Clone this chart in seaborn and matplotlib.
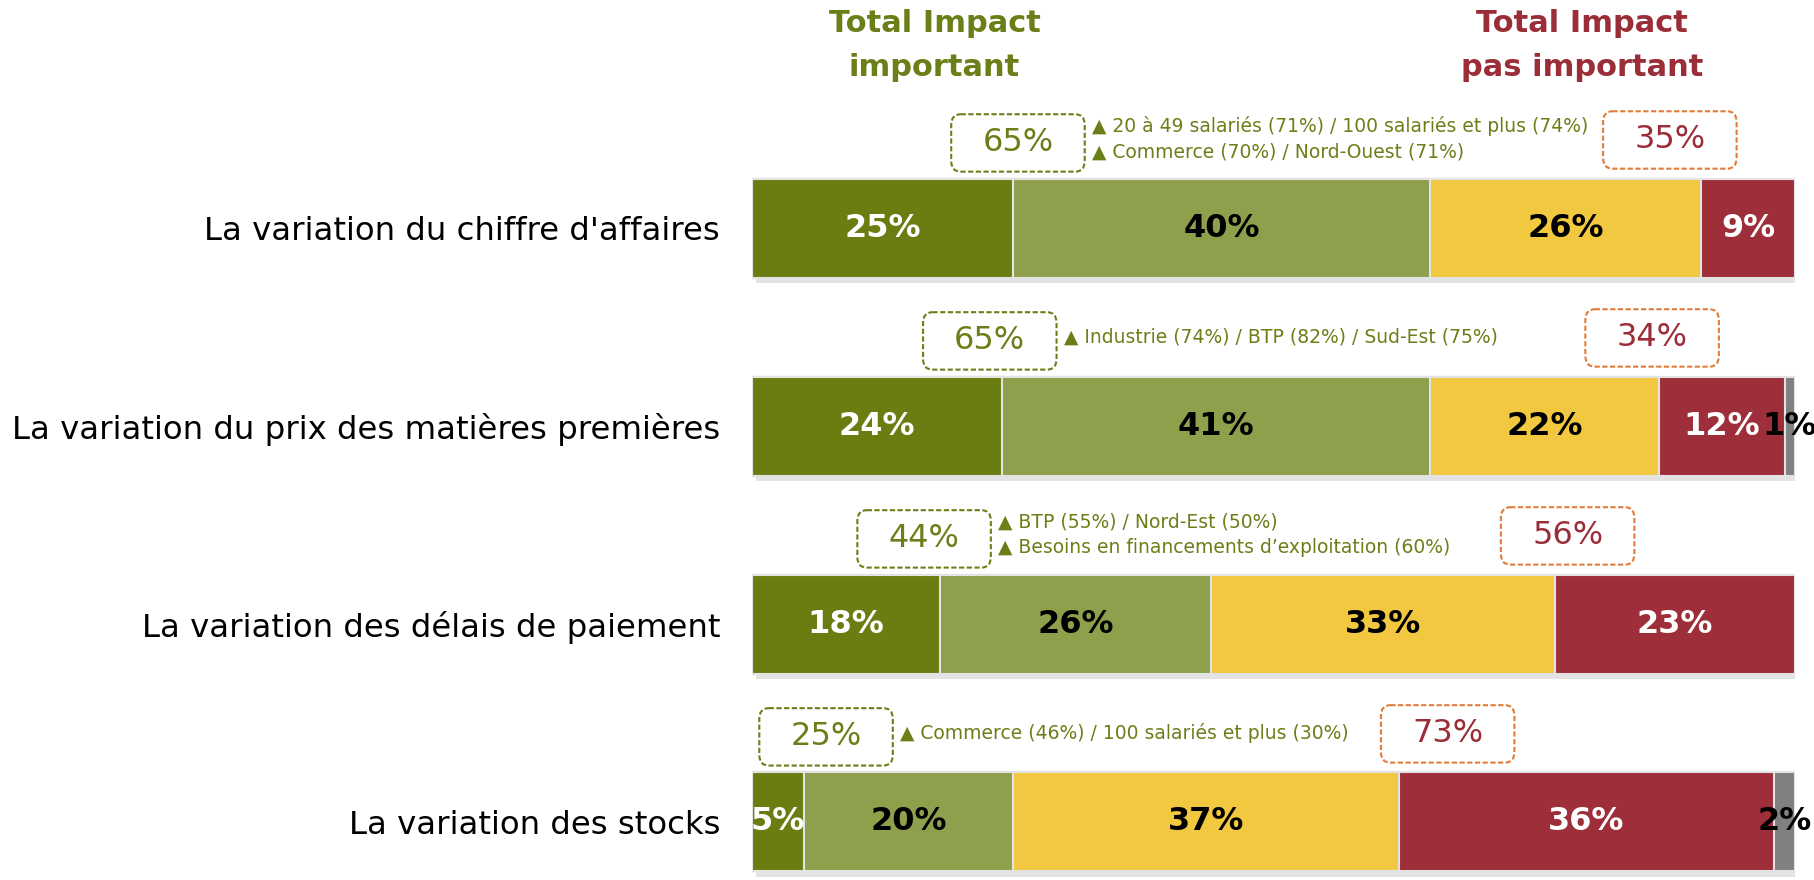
import numpy as np
import pandas as pd
import matplotlib.pyplot as plt
import seaborn as sns
from matplotlib.patches import FancyBboxPatch
import matplotlib.patheffects as pe

# data
labels = ["La variation du chiffre d'affaires",
          "La variation du prix des matières premières",
          "La variation des délais de paiement",
          "La variation des stocks"]
tres_important = [25, 24, 18, 5]
assez_important = [40, 41, 26, 20]
peu_important = [26, 22, 33, 37]
pas_important = [9, 12, 23, 36]
nsp = [0, 1, 0, 2]
total_important = [65, 65, 44, 25]
total_pas_important = [35, 34, 56, 73]
sous_groupes = ["▲ 20 à 49 salariés (71%) / 100 salariés et plus (74%)\n▲ Commerce (70%) / Nord-Ouest (71%)",
                "▲ Industrie (74%) / BTP (82%) / Sud-Est (75%)",
                "▲ BTP (55%) / Nord-Est (50%)\n▲ Besoins en financements d\u2019exploitation (60%)",
                "▲ Commerce (46%) / 100 salariés et plus (30%)"]

# layout of the boxes (x centre in % of the bar)
green_box_x = [25.5, 22.8, 16.5, 7.1]
red_box_x = [88.0, 86.3, 78.2, 66.7]

colors = ['#6a7d10', '#8fa04d', '#f1c83f', '#9d2e3a', '#808080']
text_colors = ['white', 'black', 'black', 'white', 'black']
green = '#6b7f18'
red = '#9b2d38'
orange = '#e07b39'

sns.set_style("white")
plt.rcParams['font.family'] = ['DejaVu Sans']

df = pd.DataFrame({'label': labels, 'tres': tres_important, 'assez': assez_important,
                   'peu': peu_important, 'pas': pas_important, 'nsp': nsp})
series = ['tres', 'assez', 'peu', 'pas', 'nsp']
cum = df[series].cumsum(axis=1)

fig = plt.figure(figsize=(18.15, 8.8), dpi=100)
ax = fig.add_axes([752 / 1815, 0, 1043 / 1815, 1])

# stacked bars: draw cumulative totals, longest first
for i in range(len(series) - 1, -1, -1):
    n_before = len(ax.patches)
    sns.barplot(x=cum[series[i]], y=df['label'], orient='h', color=colors[i], saturation=1,
                width=0.5, edgecolor='#e3e3e3', linewidth=1.5, ax=ax)
    if i == len(series) - 1:
        for p in ax.patches[n_before:]:
            p.set_path_effects([pe.SimplePatchShadow(offset=(3, -4), shadow_rgbFace='#c8c8c8', alpha=0.5),
                                pe.Normal()])

# values in the bars
for r in range(len(labels)):
    left = 0
    for i, s in enumerate(series):
        v = df[s][r]
        if v > 0:
            ax.text(left + v / 2, r, f"{v}%", ha='center', va='center', fontsize=23,
                    fontweight='bold', color=text_colors[i])
        left += v

# total boxes and sub-group notes
for r in range(len(labels)):
    yc = r - 0.43
    bw, bh = 12.8, 0.29
    box = FancyBboxPatch((green_box_x[r] - bw / 2, yc - bh / 2), bw, bh,
                         boxstyle="round,pad=0,rounding_size=0.9", fill=False,
                         edgecolor=green, linestyle=(0, (2.5, 1.2)), linewidth=1.5,
                         mutation_aspect=0.06, clip_on=False)
    ax.add_patch(box)
    ax.text(green_box_x[r], yc, f"{total_important[r]}%", ha='center', va='center',
            fontsize=23, color=green)
    ycr = r - 0.445
    box = FancyBboxPatch((red_box_x[r] - bw / 2, ycr - bh / 2), bw, bh,
                         boxstyle="round,pad=0,rounding_size=0.9", fill=False,
                         edgecolor=orange, linestyle=(0, (2.5, 1.2)), linewidth=1.5,
                         mutation_aspect=0.06, clip_on=False)
    ax.add_patch(box)
    ax.text(red_box_x[r], ycr, f"{total_pas_important[r]}%", ha='center', va='center',
            fontsize=23, color=red)
    ax.text(green_box_x[r] + bw / 2 + 0.7, yc - 0.02, sous_groupes[r], ha='left', va='center',
            fontsize=13.5, color=green, linespacing=1.45)

# headers
ax.text(17.5, -0.92, "Total Impact\nimportant", ha='center', va='center', fontsize=22,
        fontweight='bold', color=green, linespacing=1.65)
ax.text(79.6, -0.92, "Total Impact\npas important", ha='center', va='center', fontsize=22,
        fontweight='bold', color=red, linespacing=1.65)

ax.set_xlim(0, 100)
ax.set_ylim(3.293, -1.152)
ax.set_xlabel('')
ax.set_ylabel('')
ax.set_xticks([])
ax.tick_params(axis='y', length=0, pad=23, labelsize=23.3, labelcolor='black')
sns.despine(ax=ax, left=True, bottom=True)

fig.savefig('out.png', dpi=100)
